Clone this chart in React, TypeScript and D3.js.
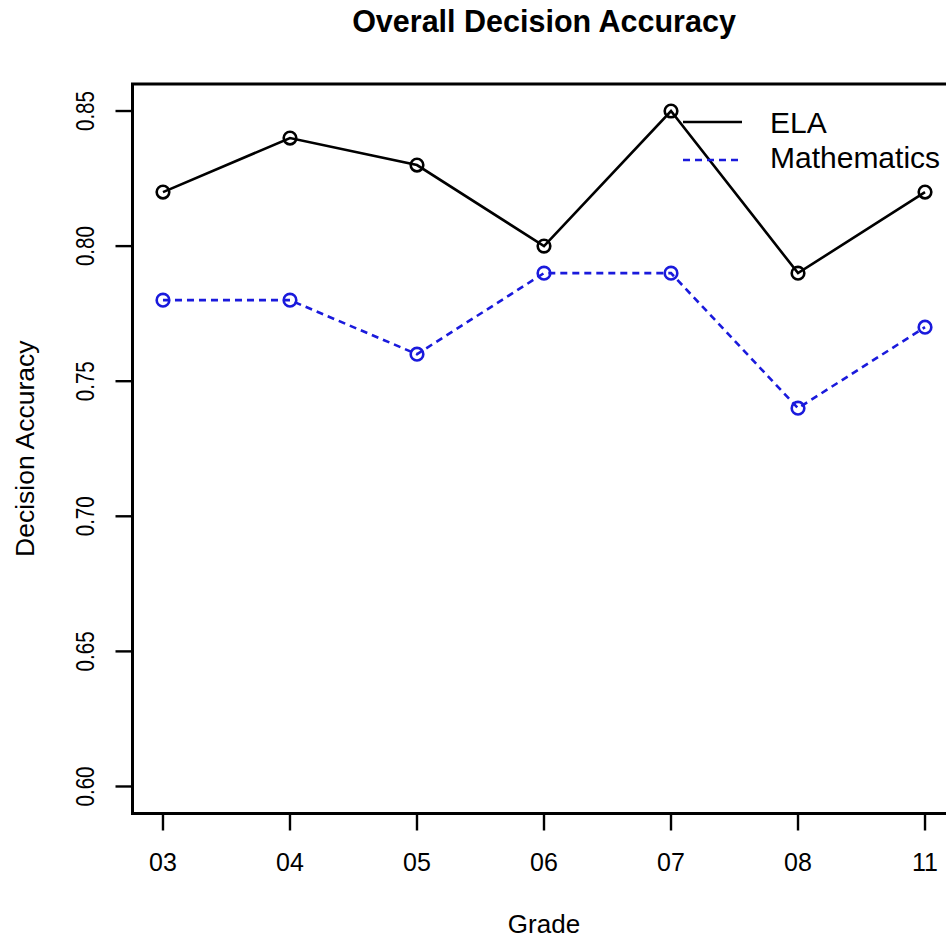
import React from "react";
import * as d3 from "d3";

const grades = ["03", "04", "05", "06", "07", "08", "11"];
const elaValues = [0.82, 0.84, 0.83, 0.8, 0.85, 0.79, 0.82];
const mathValues = [0.78, 0.78, 0.76, 0.79, 0.79, 0.74, 0.77];
const yTicks = [0.6, 0.65, 0.7, 0.75, 0.8, 0.85];

const W = 946;
const H = 943;
const FONT = "Liberation Sans, Arial, sans-serif";

export default function App() {
  const left = 132.5;
  const right = 955.5;
  const top = 84;
  const bottom = 813.5;
  const xPad = (right - left) * 0.04 / 1.08;
  const x = d3
    .scalePoint<string>()
    .domain(grades)
    .range([left + xPad, right - xPad]);
  const y = d3.scaleLinear().domain([0.59, 0.86]).range([bottom, top]);

  const line = d3
    .line<number>()
    .x((_, i) => x(grades[i]) as number)
    .y((d) => y(d));

  const series = [
    { name: "ELA", values: elaValues, color: "#000000", dash: undefined as string | undefined },
    { name: "Mathematics", values: mathValues, color: "#1a1adc", dash: "7,5" },
  ];

  return (
    <div style={{ position: "absolute", left: 0, top: 0 }}>
      <svg width={W} height={H} style={{ display: "block", background: "#fff" }}>
        <rect x={0} y={0} width={W} height={H} fill="#fff" />
        <text x={544} y={32} textAnchor="middle" fontFamily={FONT} fontWeight="bold" fontSize={30.5}>
          Overall Decision Accuracy
        </text>
        {series.map((s) => (
          <g key={s.name}>
            <path d={line(s.values) || ""} fill="none" stroke={s.color} strokeWidth={2.6} strokeDasharray={s.dash} />
            {s.values.map((v, i) => (
              <circle key={i} cx={x(grades[i])} cy={y(v)} r={6.3} fill="none" stroke={s.color} strokeWidth={2.6} />
            ))}
          </g>
        ))}
        <rect x={left} y={top} width={right - left} height={bottom - top} fill="none" stroke="#000" strokeWidth={3} />
        {yTicks.map((t) => (
          <g key={t}>
            <line x1={left - 17} x2={left} y1={y(t)} y2={y(t)} stroke="#000" strokeWidth={2.4} />
            <text
              transform={`translate(94,${y(t)}) rotate(-90)`}
              textAnchor="middle"
              fontFamily={FONT}
              fontSize={25}
              textLength={40}
              lengthAdjust="spacingAndGlyphs"
            >
              {t.toFixed(2)}
            </text>
          </g>
        ))}
        {grades.map((g) => (
          <g key={g}>
            <line x1={x(g)} x2={x(g)} y1={bottom} y2={bottom + 17} stroke="#000" strokeWidth={2.4} />
            <text x={x(g)} y={871} textAnchor="middle" fontFamily={FONT} fontSize={25}>
              {g}
            </text>
          </g>
        ))}
        <text x={544} y={933} textAnchor="middle" fontFamily={FONT} fontSize={26}>
          Grade
        </text>
        <text
          transform={`translate(34,${(top + bottom) / 2}) rotate(-90)`}
          textAnchor="middle"
          fontFamily={FONT}
          fontSize={26.5}
        >
          Decision Accuracy
        </text>
        {series.map((s, i) => (
          <g key={"leg" + s.name}>
            <line x1={683} x2={742} y1={122 + i * 38} y2={122 + i * 38} stroke={s.color} strokeWidth={2.6} strokeDasharray={s.dash} />
            <text x={770} y={133 + i * 35} fontFamily={FONT} fontSize={30}>
              {s.name}
            </text>
          </g>
        ))}
      </svg>
    </div>
  );
}
